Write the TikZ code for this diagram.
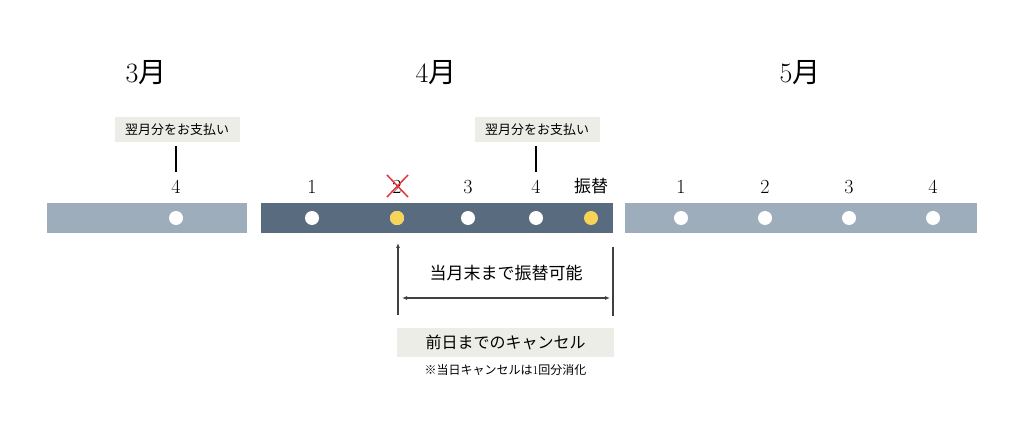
\documentclass[tikz,border=0pt]{standalone}
\usepackage{fontspec}
\newfontfamily\jp{Noto Sans CJK JP}
\usetikzlibrary{positioning,arrows.meta}
\definecolor{barlight}{HTML}{9DADBC}
\definecolor{bardark}{HTML}{586B7F}
\definecolor{dotyellow}{HTML}{F7D358}
\definecolor{boxgray}{HTML}{EDEDE8}
\definecolor{crossred}{HTML}{E8323C}
\begin{document}
\begin{tikzpicture}[x=1pt, y=-1pt,
	month/.style={font=\fontsize{28}{30}\selectfont},
	day/.style={font=\fontsize{20}{22}\selectfont},
	dot/.style={circle, fill=white, inner sep=0pt, minimum size=14pt},
	ydot/.style={dot, fill=dotyellow},
	paybox/.style={fill=boxgray, font=\fontsize{13}{15}\selectfont\jp, inner sep=0pt, minimum width=125pt, minimum height=25pt},
	span/.style={line width=1.5pt, black!75}]
	\useasboundingbox (0, 0) rectangle (1024, 427);
	% months
	\node[month] (m3) at (146, 73) {3{\jp 月}};
	\node[month] (m4) at (436, 73) {4{\jp 月}};
	\node[month] (m5) at (800, 73) {5{\jp 月}};
	% bars
	\fill[barlight] (47, 203) rectangle (247, 233);
	\fill[bardark] (261, 203) rectangle (613, 233);
	\fill[barlight] (625, 203) rectangle (977, 233);
	% dots and days
	\node[dot] (d0) at (176, 218) {};
	\node[day] (n0) at (176, 187) {4};
	\foreach \x/\t [count=\i] in {312/1, 397/2, 468/3, 536/4} {
		\node[dot] (a\i) at (\x, 218) {};
		\node[day] (na\i) at (\x, 187) {\t};
	}
	\node[ydot] at (a2) {};
	\node[ydot] (a5) at (591, 218) {};
	\node[font=\fontsize{17}{19}\selectfont\jp] (na5) at (591, 186) {振替};
	\foreach \x/\t [count=\i] in {681/1, 765/2, 849/3, 933/4} {
		\node[dot] (b\i) at (\x, 218) {};
		\node[day] (nb\i) at (\x, 187) {\t};
	}
	\draw[crossred, line width=1.5pt] (387, 175) -- (408, 197) (408, 175) -- (387, 197);
	% payment notes
	\node[paybox] (p1) at (177, 129.5) {翌月分をお支払い};
	\node[paybox] (p2) at (537, 129.5) {翌月分をお支払い};
	\draw[line width=1.2pt] (176, 146) -- (176, 172);
	\draw[line width=1.2pt] (536, 146) -- (536, 172);
	% transfer period
	\coordinate (s0) at (398, 315);
	\coordinate (s1) at (398, 243);
	\coordinate (e0) at (613, 247);
	\coordinate (e1) at (613, 316);
	\draw[span, -{Latex[length=5pt, width=4pt]}] (s0) -- (s1);
	\draw[span] (e0) -- (e1);
	\node[font=\fontsize{17}{19}\selectfont\jp] (t1) at (506, 273) {当月末まで振替可能};
	\coordinate (h0) at (402, 298);
	\coordinate (h1) at (610, 298);
	\draw[span, {Latex[length=5pt, width=4pt]}-{Latex[length=5pt, width=4pt]}] (h0) -- (h1);
	\node[fill=boxgray, inner sep=0pt, minimum width=217pt, minimum height=29pt, font=\fontsize{16}{18}\selectfont\jp] (c1) at (505.5, 342.5) {前日までのキャンセル};
	\node[font=\fontsize{12}{14}\selectfont\jp, below=4pt of c1] (c2) {※当日キャンセルは{\rmfamily 1}回分消化};
\end{tikzpicture}
\end{document}
